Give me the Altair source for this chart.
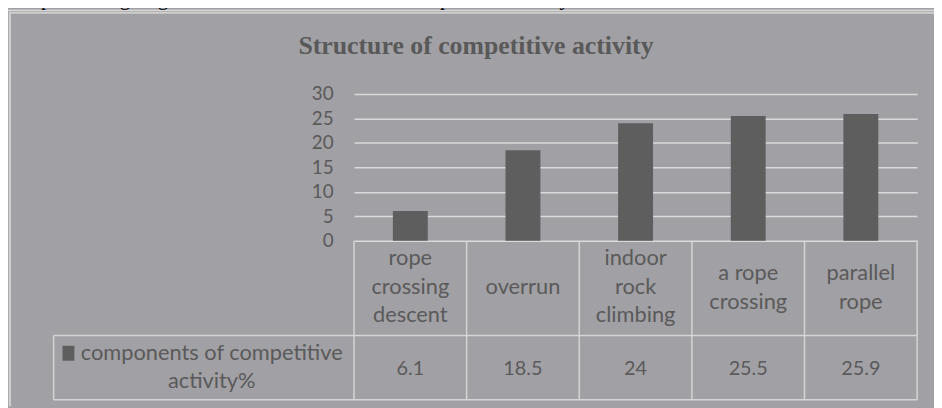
import altair as alt
import pandas as pd

# ---------------- data ----------------
CATEGORIES = ["rope|crossing|descent", "overrun", "indoor|rock|climbing", "a rope|crossing", "parallel|rope"]
VALUES = [6.1, 18.5, 24, 25.5, 25.9]
SERIES = "components of competitive activity%"
SERIES_LINES = ["components of competitive", "activity%"]
Y_TICKS = [0, 5, 10, 15, 20, 25, 30]
TITLE = "Structure of competitive activity"
CAPTION = "tical processing. Figure 1 shows the structure of competitive activity."

# ---------------- layout / style ----------------
W, H = 568, 148
PAD = {"left": 349, "top": 85, "right": 17, "bottom": 167}
PANEL = "#a1a0a4"
BAR = "#5e5e5e"
TEXT = "#5a5a5a"
LINE = "#d4d4d4"
GRID = "#dadada"
SANS = "Lato"
SERIF = "Liberation Serif"

df = pd.DataFrame({"category": CATEGORIES, "value": VALUES, "series": SERIES})
one = pd.DataFrame({"series": [SERIES]})

xscale = alt.Scale(domain=CATEGORIES, paddingInner=0, paddingOuter=0)
yscale = alt.Scale(domain=[0, 30], nice=False)

nlines = "length(split(datum.value,'|'))"
label_baseline = {
    "condition": [
        {"test": f"{nlines}==3", "value": "line-bottom"},
        {"test": f"{nlines}==1", "value": "line-top"},
    ],
    "value": "middle",
}

xenc = alt.X(
    "category:N", scale=xscale, sort=CATEGORIES, title=None,
    axis=alt.Axis(
        orient="bottom", domain=False, ticks=False, tickSize=0, grid=False,
        labelAngle=0, labelExpr="split(datum.label,'|')", labelBaseline=label_baseline,
        labelLineHeight=28.8, labelPadding=32.3, labelFont=SANS, labelFontSize=22,
        labelColor=TEXT, labelOverlap=False, labelLimit=0, labelBound=False,
        labelFlush=False,
    ),
)
yenc = alt.Y(
    "value:Q", scale=yscale, title=None,
    axis=alt.Axis(
        values=Y_TICKS, domain=False, ticks=False, tickSize=0, labelPadding=21,
        labelFont=SANS, labelFontSize=19, labelColor=TEXT, grid=True,
        gridColor=GRID, gridWidth=1.5,
    ),
)

base = alt.Chart(df)

bars = base.mark_bar(color=BAR, width=alt.RelativeBandSize(0.31)).encode(x=xenc, y=yenc)

# table: vertical lines at the category band edges
vlines = base.mark_rule(color=LINE, strokeWidth=1.5).encode(
    x=alt.X("category:N", scale=xscale, sort=CATEGORIES, title=None, bandPosition=0),
    y=alt.value(H), y2=alt.value(308.5),
)
vend = base.transform_filter(alt.datum.category == CATEGORIES[-1]).mark_rule(
    color=LINE, strokeWidth=1.5
).encode(
    x=alt.X("category:N", scale=xscale, sort=CATEGORIES, title=None, bandPosition=1),
    y=alt.value(H), y2=alt.value(308.5),
)

# table: horizontal borders and legend-cell left edge
oneC = alt.Chart(one)
h1 = oneC.mark_rule(color=LINE, strokeWidth=1.5).encode(
    x=alt.value(-303), x2=alt.value(W), y=alt.value(243.7))
h2 = oneC.mark_rule(color=LINE, strokeWidth=1.5).encode(
    x=alt.value(-303), x2=alt.value(W), y=alt.value(308.5))
vleft = oneC.mark_rule(color=LINE, strokeWidth=1.5).encode(
    x=alt.value(-303), y=alt.value(243.7), y2=alt.value(308.5))

# table: values row
vals = base.mark_text(font=SANS, fontSize=20, color=TEXT, baseline="middle").encode(
    x=alt.X("category:N", scale=xscale, sort=CATEGORIES, title=None),
    y=alt.value(277),
    text=alt.Text("value:Q"),
)

# legend key in the table
swatch = oneC.mark_rect(color=BAR).encode(
    x=alt.value(-294), x2=alt.value(-282), y=alt.value(254), y2=alt.value(269))
legtext = oneC.mark_text(
    font=SANS, fontSize=22, color=TEXT, align="center", baseline="alphabetic", lineHeight=29
).encode(x=alt.value(-143.5), y=alt.value(268), text=alt.value(SERIES_LINES))

# chart title
title = oneC.mark_text(
    font=SERIF, fontSize=26, fontWeight="bold", color="#595959", align="center",
    baseline="alphabetic",
).encode(x=alt.value(123), y=alt.value(-40.7), text=alt.value(TITLE))

# frame of the chart object and the page text above it
white = oneC.mark_rect(color="white").encode(
    x=alt.value(-349), x2=alt.value(585), y=alt.value(-85), y2=alt.value(-84))
ftop_d = oneC.mark_rect(color="#ababab").encode(
    x=alt.value(-349), x2=alt.value(585), y=alt.value(-84), y2=alt.value(-83))
ftop_l = oneC.mark_rect(color="#cfcfcf").encode(
    x=alt.value(-348), x2=alt.value(585), y=alt.value(-83), y2=alt.value(-81))
fleft_d = oneC.mark_rect(color="#ababab").encode(
    x=alt.value(-349), x2=alt.value(-348), y=alt.value(-84), y2=alt.value(315))
fleft_l = oneC.mark_rect(color="#cfcfcf").encode(
    x=alt.value(-348), x2=alt.value(-346), y=alt.value(-83), y2=alt.value(315))
caption = oneC.mark_text(
    font=SERIF, fontSize=21, color="black", align="left", baseline="alphabetic"
).encode(x=alt.value(-357), y=alt.value(-90), text=alt.value(CAPTION))

chart = alt.layer(
    bars, vlines, vend, h1, h2, vleft, vals, swatch, legtext, title,
    white, ftop_d, ftop_l, fleft_d, fleft_l, caption,
).properties(
    width=W, height=H, padding=PAD,
    autosize=alt.AutoSizeParams(type="none"),
    background=PANEL,
).configure_view(strokeWidth=0)

chart.save("out.html", embed_options={"renderer": "svg", "actions": False})
